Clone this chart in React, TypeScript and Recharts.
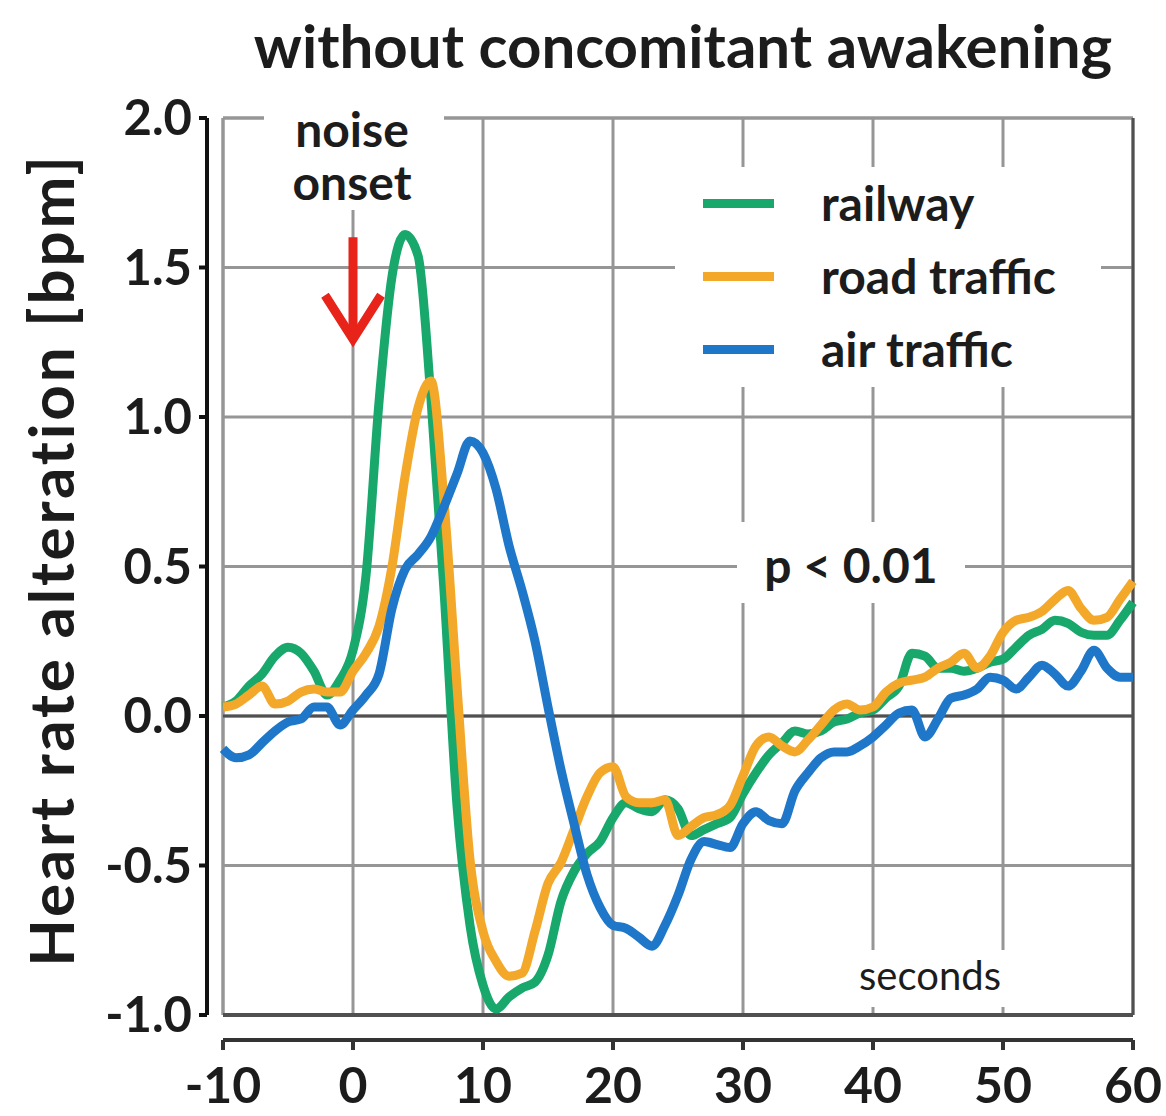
import {
  LineChart,
  Line,
  XAxis,
  YAxis,
  CartesianGrid,
  ReferenceLine,
  ReferenceDot,
  Legend,
} from 'recharts';

// seconds relative to noise onset
const SECONDS = [
  -10, -9, -8, -7, -6, -5, -4, -3, -2, -1,
  0, 1, 2, 3, 4, 5, 6, 7, 8, 9,
  10, 11, 12, 13, 14, 15, 16, 17, 18, 19,
  20, 21, 22, 23, 24, 25, 26, 27, 28, 29,
  30, 31, 32, 33, 34, 35, 36, 37, 38, 39,
  40, 41, 42, 43, 44, 45, 46, 47, 48, 49,
  50, 51, 52, 53, 54, 55, 56, 57, 58, 59, 60,
];

const RAILWAY = [
  0.03, 0.05, 0.10, 0.14, 0.20, 0.23, 0.21, 0.15, 0.07, 0.12,
  0.22, 0.47, 1.05, 1.47, 1.61, 1.54, 1.06, 0.42, -0.30, -0.70,
  -0.90, -0.98, -0.94, -0.91, -0.89, -0.80, -0.62, -0.52, -0.46, -0.42,
  -0.34, -0.29, -0.31, -0.32, -0.28, -0.31, -0.40, -0.38, -0.36, -0.34,
  -0.26, -0.19, -0.13, -0.09, -0.05, -0.06, -0.05, -0.02, -0.01, 0.01,
  0.02, 0.06, 0.10, 0.21, 0.20, 0.16, 0.16, 0.15, 0.16, 0.18,
  0.19, 0.23, 0.27, 0.29, 0.32, 0.31, 0.28, 0.27, 0.27, 0.32, 0.38,
];

const ROAD_TRAFFIC = [
  0.03, 0.04, 0.07, 0.10, 0.04, 0.05, 0.08, 0.09, 0.08, 0.08,
  0.15, 0.21, 0.30, 0.50, 0.80, 1.03, 1.12, 0.72, 0.10, -0.48,
  -0.72, -0.82, -0.87, -0.86, -0.72, -0.56, -0.49, -0.38, -0.27, -0.19,
  -0.17, -0.27, -0.29, -0.29, -0.28, -0.40, -0.37, -0.34, -0.33, -0.30,
  -0.20, -0.10, -0.07, -0.10, -0.12, -0.08, -0.03, 0.02, 0.04, 0.02,
  0.03, 0.08, 0.11, 0.12, 0.13, 0.16, 0.18, 0.21, 0.16, 0.20,
  0.28, 0.32, 0.33, 0.35, 0.39, 0.42, 0.36, 0.32, 0.33, 0.39, 0.45,
];

const AIR_TRAFFIC = [
  -0.11, -0.14, -0.13, -0.09, -0.05, -0.02, -0.01, 0.03, 0.03, -0.03,
  0.02, 0.07, 0.14, 0.36, 0.49, 0.54, 0.60, 0.70, 0.81, 0.92,
  0.88, 0.76, 0.57, 0.42, 0.25, 0.03, -0.18, -0.36, -0.53, -0.64,
  -0.70, -0.71, -0.74, -0.77, -0.70, -0.60, -0.48, -0.42, -0.43, -0.44,
  -0.36, -0.32, -0.35, -0.36, -0.25, -0.19, -0.14, -0.12, -0.12, -0.10,
  -0.07, -0.03, 0.01, 0.02, -0.07, -0.01, 0.06, 0.07, 0.09, 0.13,
  0.12, 0.09, 0.13, 0.17, 0.14, 0.10, 0.15, 0.22, 0.16, 0.13, 0.13,
];

const X_TICKS = [-10, 0, 10, 20, 30, 40, 50, 60];
const Y_TICKS = [-1, -0.5, 0, 0.5, 1, 1.5, 2];

const SERIES = [
  { key: 'railway', name: 'railway', color: '#18a86b' },
  { key: 'road', name: 'road traffic', color: '#f3a82a' },
  { key: 'air', name: 'air traffic', color: '#1f77c9' },
];

const NOISE_ONSET = 0;
const ARROW_TIP = 1.24;

const data = SECONDS.map((t, i) => ({
  t,
  railway: RAILWAY[i],
  road: ROAD_TRAFFIC[i],
  air: AIR_TRAFFIC[i],
}));

const FONT = 'Lato, "Open Sans", sans-serif';
const INK = '#1c1c1c';
const GRID = '#969696';
const DARK = '#505050';

function Arrow(props: any) {
  const { cx, cy } = props;
  return (
    <g stroke="#e8231a" strokeWidth={9} fill="none">
      <path d={`M${cx},${cy - 108} L${cx},${cy - 6}`} />
      <path d={`M${cx - 28},${cy - 50} L${cx},${cy - 6} L${cx + 28},${cy - 50}`} />
    </g>
  );
}

function LegendBox(props: any) {
  const items = (props.payload || [])
    .slice()
    .sort(
      (a: any, b: any) =>
        SERIES.findIndex((s) => s.name === a.value) - SERIES.findIndex((s) => s.name === b.value)
    );
  return (
    <div style={{ background: '#fff', width: 426, height: 220, position: 'relative', fontFamily: FONT }}>
      {items.map((it: any, i: number) => (
        <div
          key={it.value}
          style={{ position: 'absolute', left: 0, top: 6 + i * 73, height: 60, display: 'flex', alignItems: 'center' }}
        >
          <span style={{ display: 'inline-block', marginLeft: 28, width: 71, height: 9, background: it.color }} />
          <span style={{ marginLeft: 47, fontSize: 48, fontWeight: 700, color: INK, lineHeight: '60px', whiteSpace: 'nowrap' }}>
            {it.value}
          </span>
        </div>
      ))}
    </div>
  );
}

export default function App() {
  return (
    <div style={{ position: 'absolute', left: 0, top: 0, width: 1166, height: 1116, background: '#fff', fontFamily: FONT }}>
      <LineChart width={1166} height={1116} data={data} margin={{ top: 118, right: 33, bottom: 41, left: 123 }}>
        <CartesianGrid stroke={GRID} strokeWidth={3} />
        <XAxis
          dataKey="t"
          type="number"
          domain={[-10, 60]}
          ticks={X_TICKS}
          height={60}
          tickSize={10}
          tickMargin={42}
          axisLine={{ stroke: '#333', strokeWidth: 4, transform: 'translate(0,25)' }}
          tickLine={{ stroke: '#333', strokeWidth: 4, transform: 'translate(0,25)' }}
          tick={{ fill: INK, fontSize: 50, fontWeight: 700, fontFamily: FONT }}
        />
        <YAxis
          type="number"
          domain={[-1, 2]}
          ticks={Y_TICKS}
          width={100}
          tickSize={8}
          tickMargin={23}
          tickFormatter={(v: number) => v.toFixed(1)}
          axisLine={{ stroke: '#111', strokeWidth: 4, transform: 'translate(-16,0)' }}
          tickLine={{ stroke: '#111', strokeWidth: 4, transform: 'translate(-16,0)' }}
          tick={{ fill: INK, fontSize: 49, fontWeight: 700, fontFamily: FONT }}
        />
        <ReferenceLine x={-10} stroke={GRID} strokeWidth={3} />
        <ReferenceLine y={2} stroke={GRID} strokeWidth={3} />
        <ReferenceLine x={60} stroke={DARK} strokeWidth={3} />
        <ReferenceLine y={-1} stroke={DARK} strokeWidth={4} />
        <ReferenceLine y={0} stroke={DARK} strokeWidth={3} />
        {SERIES.map((s) => (
          <Line
            key={s.key}
            dataKey={s.key}
            name={s.name}
            type="monotone"
            stroke={s.color}
            strokeWidth={9}
            dot={false}
            strokeLinejoin="round"
            isAnimationActive={false}
          />
        ))}
        <ReferenceDot x={NOISE_ONSET} y={ARROW_TIP} shape={Arrow} />
        <Legend
          layout="vertical"
          align="center"
          verticalAlign="middle"
          content={LegendBox}
          wrapperStyle={{ left: 675, top: 167, width: 426, height: 220 }}
        />
      </LineChart>
      <svg
        width={1166}
        height={1116}
        style={{ position: 'absolute', left: 0, top: 0, pointerEvents: 'none', fontFamily: FONT }}
      >
        <text x={683} y={68} textAnchor="middle" fontSize={60} fontWeight={700} fill={INK}>
          without concomitant awakening
        </text>
        <text
          transform="translate(74,560) rotate(-90)"
          textAnchor="middle"
          fontSize={62}
          fontWeight={700}
          letterSpacing={2.8}
          fill={INK}
        >
          Heart rate alteration [bpm]
        </text>
        <rect x={264} y={104} width={180} height={106} fill="#fff" />
        <text x={352} y={147} textAnchor="middle" fontSize={48} fontWeight={700} fill={INK}>noise</text>
        <text x={352} y={200} textAnchor="middle" fontSize={48} fontWeight={700} fill={INK}>onset</text>
        <rect x={737} y={522} width={228} height={81} fill="#fff" />
        <text x={851} y={583} textAnchor="middle" fontSize={48} fontWeight={700} fill={INK}>p &lt; 0.01</text>
        <rect x={840} y={950} width={180} height={57} fill="#fff" />
        <text x={930} y={990} textAnchor="middle" fontSize={40} fill={INK}>seconds</text>
      </svg>
    </div>
  );
}
